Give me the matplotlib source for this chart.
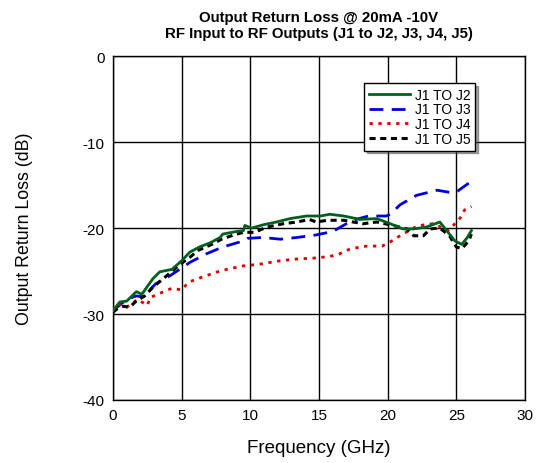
import matplotlib
matplotlib.use("Agg")
import matplotlib.pyplot as plt

plt.rcParams['font.family'] = ['Liberation Sans', 'DejaVu Sans']
plt.rcParams['axes.unicode_minus'] = False

# J1 to J2 (solid green)
f_j2 = [0.0, 0.5, 1.0, 1.7, 2.1, 2.9, 3.4, 4.3, 5.0, 5.6, 6.3, 7.1, 7.8, 8.0, 9.0, 9.5, 9.6, 10.1,
        11.0, 11.9, 12.9, 14.1, 15.1, 15.8, 16.8, 18.0, 19.2, 20.2, 21.1, 21.9, 22.8, 23.8, 24.4,
        24.9, 25.4, 25.8, 26.1]
v_j2 = [-29.6, -28.6, -28.5, -27.4, -27.7, -25.9, -25.1, -24.8, -23.8, -22.8, -22.2, -21.7, -21.1,
        -20.7, -20.4, -20.3, -19.7, -20.0, -19.6, -19.3, -18.9, -18.6, -18.6, -18.4, -18.6, -19.0,
        -18.9, -19.5, -20.1, -20.1, -19.9, -19.3, -20.5, -21.5, -21.9, -21.1, -20.3]

# J1 to J3 (long dashed blue)
f_j3 = [0.0, 1.0, 1.7, 2.2, 3.1, 4.2, 5.6, 6.8, 8.0, 9.5, 9.8, 10.9, 12.2, 13.4, 14.8, 16.0, 17.0,
        17.7, 18.6, 19.9, 20.2, 20.9, 22.1, 23.6, 24.7, 25.1, 25.8, 26.1]
v_j3 = [-29.6, -28.3, -27.9, -28.0, -26.5, -25.5, -24.0, -23.0, -22.2, -21.5, -21.2, -21.1, -21.3,
        -21.1, -20.8, -20.4, -19.5, -19.0, -18.6, -18.6, -18.4, -17.3, -16.2, -15.6, -15.9, -15.7,
        -14.9, -14.6]

# J1 to J4 (dotted red)
f_j4 = [0.0, 0.3, 1.0, 1.8, 2.5, 2.7, 3.4, 4.3, 5.0, 5.5, 6.5, 7.6, 8.3, 9.5, 10.7, 12.2, 13.4,
        14.6, 15.8, 16.5, 17.3, 18.5, 19.6, 20.2, 20.9, 22.0, 22.7, 23.3, 23.9, 24.4, 24.9, 25.3,
        25.6, 26.1]
v_j4 = [-29.6, -28.8, -29.2, -28.3, -29.0, -28.1, -27.6, -27.0, -27.2, -26.3, -25.7, -25.1, -24.8,
        -24.4, -24.2, -23.8, -23.6, -23.5, -23.3, -23.0, -22.4, -22.1, -22.1, -21.6, -20.9, -19.9,
        -19.6, -19.5, -19.9, -20.3, -19.5, -18.8, -17.9, -17.5]

# J1 to J5 (short dashed black)
f_j5 = [0.0, 0.3, 0.75, 1.2, 1.7, 2.3, 2.9, 3.8, 4.9, 5.6, 6.2, 7.2, 7.9, 8.8, 9.5, 10.3, 11.2,
        12.4, 13.4, 14.3, 14.8, 15.6, 16.8, 18.2, 19.2, 20.4, 21.4, 21.9, 22.6, 23.1, 23.8, 24.5,
        25.0, 25.4, 25.9, 26.1]
v_j5 = [-29.8, -29.4, -29.1, -29.2, -28.5, -27.9, -26.9, -25.7, -24.2, -23.4, -22.6, -21.9, -21.3,
        -20.8, -20.5, -20.5, -19.9, -19.5, -19.3, -19.0, -19.3, -19.1, -19.1, -19.5, -19.3, -19.7,
        -20.1, -20.9, -20.9, -20.1, -20.0, -20.9, -22.2, -22.4, -21.5, -20.7]

x_ticks = [0, 5, 10, 15, 20, 25, 30]
y_ticks = [0, -10, -20, -30, -40]

fig = plt.figure(figsize=(5.44, 4.64), dpi=100)
ax = fig.add_axes([0.2077, 0.1358, 0.7573, 0.7412])

ax.plot(f_j2, v_j2, color='#006020', lw=2.0, ls='-', label='J1 TO J2', zorder=5)
ax.plot(f_j3, v_j3, color='#0000dd', lw=2.0, ls=(0, (5, 3)), label='J1 TO J3', zorder=3)
ax.plot(f_j4, v_j4, color='#dd0000', lw=2.0, ls=(0, (1.2, 2)), label='J1 TO J4', zorder=3)
ax.plot(f_j5, v_j5, color='black', lw=2.2, ls=(0, (2, 1.5)), label='J1 TO J5', zorder=4)

ax.set_xlim(0, 30)
ax.set_ylim(-40, 0)
ax.set_xticks(x_ticks)
ax.set_yticks(y_ticks)
ax.tick_params(labelsize=11, length=0, pad=6)
ax.grid(True, color='black', lw=1.0)
for s in ax.spines.values():
    s.set_color('black')
    s.set_linewidth(1.0)

ax.set_xlabel('Frequency (GHz)', fontsize=13.5, labelpad=12)
ax.set_ylabel('Output Return Loss (dB)', fontsize=12.8, labelpad=36)
ax.set_title('Output Return Loss @ 20mA -10V\nRF Input to RF Outputs (J1 to J2, J3, J4, J5)',
             fontsize=10.8, fontweight='bold', pad=14, linespacing=1.15)

leg = ax.legend(loc='upper left', bbox_to_anchor=(0.609, 0.922), fontsize=10, frameon=True,
                fancybox=False, shadow=True, edgecolor='black', framealpha=1,
                handlelength=3.0, labelspacing=0.05, borderpad=0.35, handletextpad=0.3,
                borderaxespad=0)
leg.get_frame().set_linewidth(1.0)

fig.savefig('out.png', dpi=100)
